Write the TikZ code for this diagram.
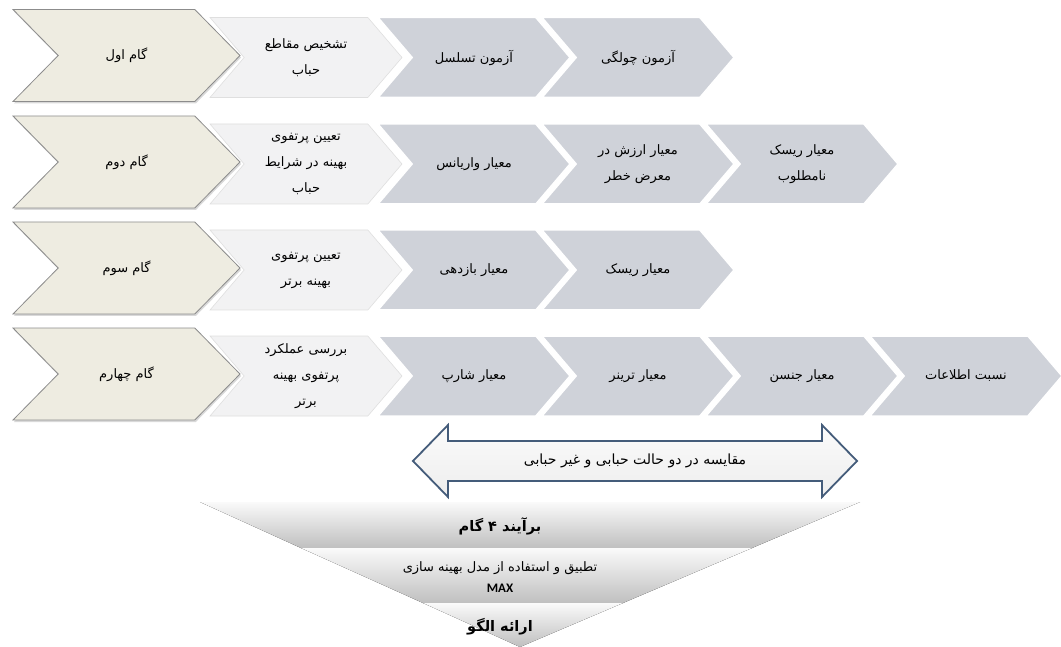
\documentclass[tikz,border=0pt]{standalone}
\usepackage{fontspec}
\newfontfamily\arabicfont[Script=Arabic]{DejaVu Sans}
\newfontfamily\latinfont{Carlito}
\TeXXeTstate=1
\newcommand{\fa}[1]{{\arabicfont\beginR #1\endR}}
\usetikzlibrary{shapes.symbols, shadows}

\definecolor{stepfill}{RGB}{238,236,225}
\definecolor{stepline}{RGB}{140,140,140}
\definecolor{taskfill}{RGB}{242,242,243}
\definecolor{critfill}{RGB}{207,210,217}
\definecolor{arrline}{RGB}{68,92,122}

\begin{document}
\begin{tikzpicture}[x=1pt, y=-1pt,
  chev/.style    = {signal, signal from=west, signal to=east,
                    signal pointer angle=99, minimum width=192pt,
                    minimum height=80pt, inner sep=0pt, align=center,
                    font=\fontsize{13}{26}\selectfont},
  stepbox/.style = {chev, fill=stepfill, draw=stepline, line width=0.8pt,
                    signal pointer angle=91, minimum width=227pt,
                    minimum height=92pt,
                    drop shadow={opacity=0.3, shadow xshift=1pt,
                                 shadow yshift=-2pt}},
  taskbox/.style = {chev, fill=taskfill, draw=gray!25, line width=0.6pt},
  critbox/.style = {chev, fill=critfill, draw=white, line width=1.5pt},
  band/.style    = {top color=gray!4, bottom color=gray!50, draw=none},
]
\useasboundingbox (0,0) rectangle (1061,647);

%% -- row 1 ---------------------------------------------------------------
\node[critbox] (r1c4) at (638,57.5) {\fa{آزمون چولگی}};
\node[critbox] (r1c3) at (474,57.5) {\fa{آزمون تسلسل}};
\node[taskbox] (r1c2) at (306,57.5) {\fa{تشخیص مقاطع}\\\fa{حباب}};
\node[stepbox] (r1c1) at (126.5,55.5) {\fa{گام اول}};

%% -- row 2 ---------------------------------------------------------------
\node[critbox] (r2c5) at (802,164) {\fa{معیار ریسک}\\\fa{نامطلوب}};
\node[critbox] (r2c4) at (638,164) {\fa{معیار ارزش در}\\\fa{معرض خطر}};
\node[critbox] (r2c3) at (474,164) {\fa{معیار واریانس}};
\node[taskbox] (r2c2) at (306,164)
  {\fa{تعیین پرتفوی}\\\fa{بهینه در شرایط}\\\fa{حباب}};
\node[stepbox] (r2c1) at (126.5,162) {\fa{گام دوم}};

%% -- row 3 ---------------------------------------------------------------
\node[critbox] (r3c4) at (638,270) {\fa{معیار ریسک}};
\node[critbox] (r3c3) at (474,270) {\fa{معیار بازدهی}};
\node[taskbox] (r3c2) at (306,270) {\fa{تعیین پرتفوی}\\\fa{بهینه برتر}};
\node[stepbox] (r3c1) at (126.5,268) {\fa{گام سوم}};

%% -- row 4 ---------------------------------------------------------------
\node[critbox] (r4c6) at (966,376) {\fa{نسبت اطلاعات}};
\node[critbox] (r4c5) at (802,376) {\fa{معیار جنسن}};
\node[critbox] (r4c4) at (638,376) {\fa{معیار ترینر}};
\node[critbox] (r4c3) at (474,376) {\fa{معیار شارپ}};
\node[taskbox] (r4c2) at (306,376)
  {\fa{بررسی عملکرد}\\\fa{پرتفوی بهینه}\\\fa{برتر}};
\node[stepbox] (r4c1) at (126.5,374) {\fa{گام چهارم}};

%% -- comparison arrow ------------------------------------------------------
\draw[arrline, line width=1.8pt, line join=miter, top color=gray!3,
      bottom color=gray!14]
  (413,461) -- (448,425) -- (448,441) -- (822,441) -- (822,425)
  -- (857,461) -- (822,497) -- (822,481) -- (448,481) -- (448,497) -- cycle;
\node[font=\fontsize{14}{16}\selectfont] (cmp) at (635,461)
  {\fa{مقایسه در دو حالت حبابی و غیر حبابی}};

%% -- funnel ----------------------------------------------------------------
\fill[band] (200,502) -- (860,502) -- (752,548) -- (301,548) -- cycle;
\fill[band] (301,548) -- (752,548) -- (623,603) -- (423,603) -- cycle;
\fill[band] (423,603) -- (623,603) -- (520,647) -- cycle;

\node[font=\fontsize{14.5}{16}\selectfont\bfseries] (res) at (500,526)
  {\fa{برآیند ۴ گام}};
\node[font=\fontsize{13}{21}\selectfont, align=center] (opt) at (500,577)
  {\fa{تطبیق و استفاده از مدل بهینه سازی}\\{\latinfont\bfseries MAX}};
\node[font=\fontsize{14.5}{16}\selectfont\bfseries] (pat) at (500,627)
  {\fa{ارائه الگو}};

\end{tikzpicture}
\end{document}
